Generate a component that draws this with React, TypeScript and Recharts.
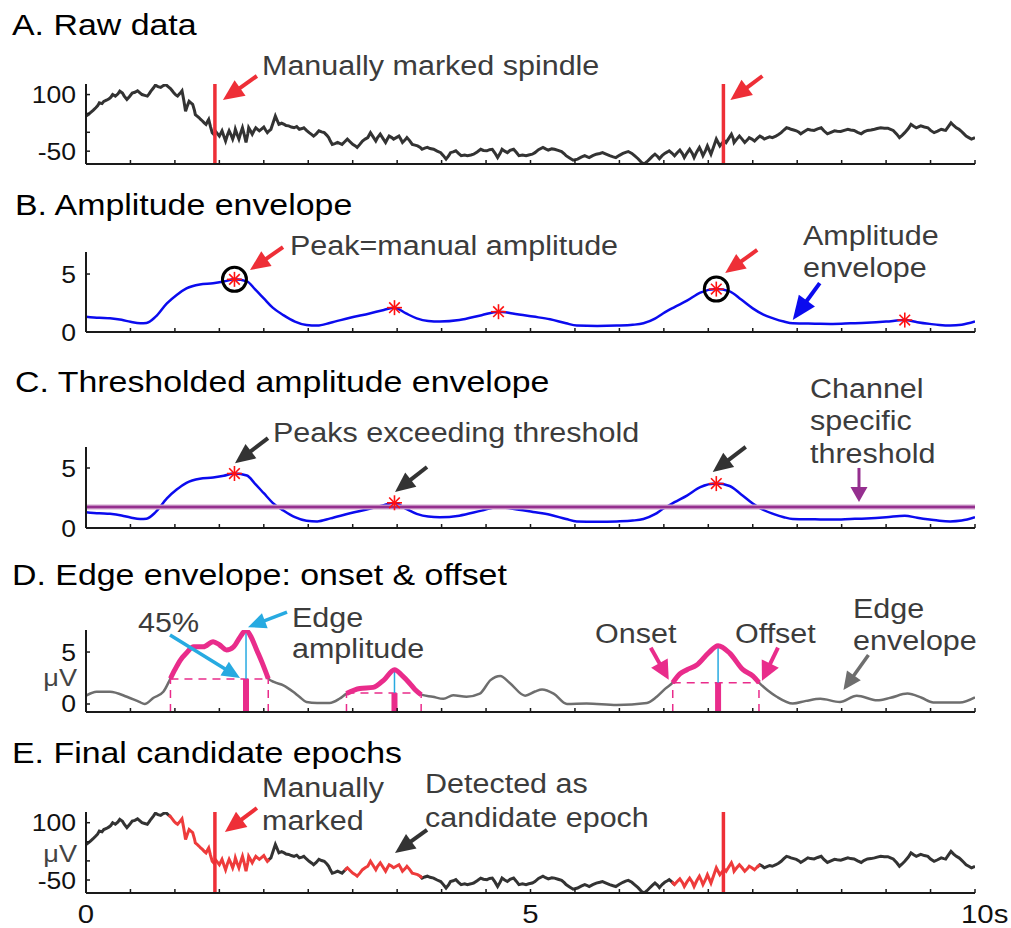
import React from "react";
import { ComposedChart, Line, XAxis, YAxis, ReferenceLine, ReferenceDot } from "recharts";

// ---------- data ----------
// time axis (s)
const xTicks = [0, 0.5, 1, 1.5, 2, 2.5, 3, 3.5, 4, 4.5, 5, 5.5, 6, 6.5, 7, 7.5, 8, 8.5, 9, 9.5, 10];
const xLabelValues = [0, 5, 10];
const xLabelTexts = ["0", "5", "10s"];

// raw EEG trace (µV)
const rawT = [
  0.0, 0.03, 0.05, 0.08, 0.11, 0.13, 0.15, 0.18, 0.2, 0.23, 0.26, 0.28, 0.3, 0.33, 0.36, 0.38, 0.41, 0.43, 0.46, 0.49,
  0.52, 0.55, 0.58, 0.61, 0.63, 0.66, 0.69, 0.71, 0.73, 0.76, 0.78, 0.81, 0.84, 0.87, 0.9, 0.93, 0.95, 0.97, 0.99, 1.01,
  1.03, 1.06, 1.08, 1.1, 1.12, 1.14, 1.16, 1.18, 1.2, 1.22, 1.23, 1.25, 1.27, 1.29, 1.31, 1.33, 1.35, 1.37, 1.38, 1.4,
  1.42, 1.44, 1.46, 1.48, 1.5, 1.53, 1.55, 1.57, 1.59, 1.61, 1.63, 1.65, 1.67, 1.68, 1.7, 1.72, 1.74, 1.76, 1.78, 1.8,
  1.82, 1.83, 1.85, 1.87, 1.89, 1.91, 1.93, 1.95, 1.98, 2.0, 2.02, 2.04, 2.06, 2.08, 2.1, 2.13, 2.15, 2.17, 2.2, 2.23,
  2.25, 2.28, 2.31, 2.34, 2.37, 2.4, 2.43, 2.45, 2.48, 2.51, 2.54, 2.56, 2.59, 2.62, 2.65, 2.68, 2.71, 2.73, 2.75, 2.77,
  2.8, 2.83, 2.86, 2.88, 2.91, 2.94, 2.97, 3.0, 3.03, 3.05, 3.08, 3.11, 3.14, 3.17, 3.2, 3.23, 3.26, 3.28, 3.31, 3.34,
  3.37, 3.39, 3.41, 3.44, 3.46, 3.49, 3.52, 3.54, 3.56, 3.59, 3.61, 3.64, 3.67, 3.7, 3.73, 3.76, 3.78, 3.81, 3.84, 3.87,
  3.91, 3.95, 3.99, 4.02, 4.05, 4.08, 4.1, 4.13, 4.16, 4.19, 4.22, 4.26, 4.29, 4.33, 4.36, 4.4, 4.44, 4.47, 4.51, 4.54,
  4.57, 4.6, 4.63, 4.66, 4.68, 4.71, 4.74, 4.77, 4.81, 4.84, 4.87, 4.91, 4.95, 4.98, 5.02, 5.05, 5.09, 5.14, 5.17, 5.2,
  5.24, 5.27, 5.31, 5.35, 5.38, 5.4, 5.44, 5.48, 5.53, 5.57, 5.61, 5.64, 5.66, 5.7, 5.74, 5.78, 5.81, 5.85, 5.89, 5.93,
  5.96, 6.0, 6.04, 6.07, 6.1, 6.14, 6.17, 6.21, 6.25, 6.28, 6.31, 6.34, 6.37, 6.4, 6.43, 6.45, 6.48, 6.51, 6.54, 6.56,
  6.59, 6.62, 6.65, 6.68, 6.71, 6.73, 6.76, 6.79, 6.82, 6.84, 6.87, 6.9, 6.92, 6.94, 6.97, 6.99, 7.01, 7.03, 7.06, 7.09,
  7.11, 7.13, 7.15, 7.18, 7.2, 7.23, 7.26, 7.28, 7.29, 7.32, 7.35, 7.38, 7.41, 7.44, 7.46, 7.49, 7.52, 7.55, 7.58, 7.61,
  7.63, 7.66, 7.69, 7.72, 7.76, 7.79, 7.82, 7.85, 7.88, 7.91, 7.93, 7.96, 7.99, 8.02, 8.04, 8.08, 8.12, 8.15, 8.19, 8.23,
  8.27, 8.3, 8.34, 8.38, 8.42, 8.45, 8.49, 8.53, 8.57, 8.6, 8.64, 8.68, 8.72, 8.75, 8.79, 8.83, 8.87, 8.9, 8.94, 8.98,
  9.02, 9.05, 9.08, 9.12, 9.15, 9.18, 9.21, 9.25, 9.28, 9.31, 9.34, 9.37, 9.39, 9.43, 9.47, 9.5, 9.54, 9.58, 9.62, 9.65,
  9.67, 9.7, 9.73, 9.76, 9.79, 9.82, 9.84, 9.87, 9.9, 9.93, 9.96, 10.0,
];
const rawV = [
  43, 48, 52, 58, 65, 70, 78, 76, 82, 85, 89, 93, 100, 96, 102, 109, 104, 96, 87, 95,
  104, 106, 110, 104, 100, 98, 96, 102, 109, 118, 125, 121, 119, 124, 126, 120, 116, 110, 104, 99,
  96, 104, 110, 85, 56, 70, 82, 78, 74, 58, 47, 43, 39, 34, 30, 25, 21, 30, 34, 15,
  -1, -6, 2, -4, -10, 4, -10, -23, -8, 4, -6, -18, -4, 8, -6, -18, -2, 12, -6, -27,
  -4, 12, 4, -5, 4, 12, 8, 4, 10, 14, 6, -1, 4, 8, 22, 43, 32, 21, 24, 21,
  18, 17, 14, 12, 15, 8, 10, 12, 5, -1, -6, -10, -4, 4, 1, -1, -8, -14, -24, -32,
  -30, -27, -30, -32, -25, -18, -25, -32, -36, -40, -32, -23, -18, -14, -1, -12, -23, -14, -5, -16,
  -27, -18, -10, -14, -18, -14, -10, -18, -27, -20, -14, -22, -32, -34, -36, -40, -45, -42, -40, -43,
  -45, -50, -54, -62, -71, -62, -54, -52, -49, -56, -62, -60, -62, -60, -58, -52, -45, -48, -49, -46,
  -45, -55, -67, -55, -45, -50, -54, -48, -45, -53, -62, -60, -62, -60, -58, -54, -46, -40, -44, -47,
  -44, -45, -48, -51, -57, -62, -68, -74, -71, -66, -62, -65, -67, -62, -58, -56, -54, -58, -62, -65,
  -67, -61, -56, -53, -51, -56, -62, -70, -80, -84, -78, -71, -64, -58, -64, -70, -62, -56, -52, -49,
  -55, -62, -54, -47, -57, -67, -55, -45, -56, -67, -52, -40, -50, -62, -48, -36, -47, -58, -38, -18,
  -27, -36, -30, -22, -27, -16, -5, -16, -27, -18, -10, -18, -27, -20, -14, -18, -23, -16, -10, -14,
  -18, -15, -12, -14, -10, -6, -1, 6, 12, 10, 8, 6, 4, 0, -4, 2, 8, 6, 5, 9,
  12, 4, -4, 0, 4, 3, 2, 5, 8, 6, 5, 0, -4, 1, 5, 6, 8, 10, 12, 11,
  11, 8, 5, -5, -14, -8, -1, 10, 21, 16, 12, 15, 17, 14, 12, 5, -1, 3, 8, 6,
  5, 15, 25, 18, 12, 8, 4, -3, -10, -14, -18, -14,
];
const rawYTicks = [-50, 0, 50, 100];
const rawYTickLabels = ["-50", "", "", "100"];

// manually marked spindles (s)
const manualT = [1.45, 7.17];

// amplitude envelope
const envT = [
  0.0, 0.15, 0.27, 0.4, 0.5, 0.61, 0.68, 0.78, 0.91, 1.02, 1.13, 1.28, 1.43, 1.55, 1.67, 1.81, 1.9, 2.0, 2.1, 2.22,
  2.35, 2.48, 2.6, 2.75, 2.97, 3.19, 3.35, 3.47, 3.6, 3.72, 3.85, 3.98, 4.2, 4.45, 4.64, 4.8, 5.03, 5.22, 5.4, 5.52,
  5.75, 5.97, 6.15, 6.27, 6.4, 6.49, 6.62, 6.76, 6.91, 7.09, 7.24, 7.37, 7.5, 7.62, 7.73, 7.85, 7.95, 8.2, 8.4, 8.6,
  8.78, 9.0, 9.21, 9.35, 9.49, 9.6, 9.72, 9.85, 10.0,
];
const envV = [
  1.32, 1.22, 1.18, 1.05, 0.88, 0.75, 0.78, 1.3, 2.47, 3.2, 3.76, 4.1, 4.2, 4.35, 4.54, 4.37, 3.7, 2.9, 2.1, 1.46,
  0.9, 0.6, 0.55, 0.8, 1.23, 1.6, 1.9, 2.1, 1.6, 1.18, 0.95, 0.9, 1.03, 1.45, 1.75, 1.6, 1.33, 1.1, 0.75, 0.55,
  0.52, 0.55, 0.62, 0.75, 1.15, 1.6, 2.15, 2.7, 3.4, 3.7, 3.5, 2.8, 2.04, 1.5, 1.18, 0.9, 0.75, 0.72, 0.7, 0.75,
  0.8, 0.9, 1.03, 0.85, 0.7, 0.6, 0.55, 0.62, 0.9,
];
const envPeakT = [1.67, 3.47, 4.64, 7.09, 9.21];
const manualPeakT = [1.67, 7.09];
const threshold = 1.75;

// edge envelope
const edgeT = [
  0.0, 0.12, 0.27, 0.46, 0.6, 0.66, 0.76, 0.87, 0.95, 1.0, 1.06, 1.13, 1.21, 1.32, 1.43, 1.5, 1.58, 1.66, 1.73, 1.8,
  1.86, 1.92, 1.98, 2.05, 2.12, 2.22, 2.33, 2.4, 2.48, 2.6, 2.74, 2.85, 2.93, 3.08, 3.23, 3.35, 3.47, 3.56, 3.64, 3.7,
  3.77, 3.9, 4.02, 4.13, 4.28, 4.43, 4.55, 4.66, 4.77, 4.94, 5.05, 5.13, 5.26, 5.41, 5.63, 5.97, 6.31, 6.42, 6.52, 6.6,
  6.68, 6.76, 6.87, 7.0, 7.11, 7.24, 7.39, 7.5, 7.57, 7.67, 7.77, 7.95, 8.1, 8.26, 8.48, 8.67, 8.9, 9.05, 9.24, 9.4,
  9.53, 9.83, 10.0,
];
const edgeV = [
  0.8, 1.18, 1.18, 0.7, 0.2, 0.0, 0.6, 1.18, 2.45, 3.3, 4.2, 4.9, 5.5, 5.5, 6.0, 5.7, 5.2, 5.5, 6.4, 7.1,
  6.4, 5.2, 4.0, 2.45, 2.1, 1.8, 1.18, 0.7, 0.2, 0.1, 0.1, 0.5, 1.0, 1.5, 1.6, 2.3, 3.3, 2.7, 2.0, 1.4,
  0.9, 0.7, 0.5, 0.85, 0.7, 1.0, 2.3, 2.7, 2.0, 0.8, 1.2, 1.4, 1.0, 0.0, 0.05, -0.1, 0.1, 0.7, 1.5, 2.05,
  2.9, 3.3, 3.75, 4.9, 5.6, 4.9, 3.3, 2.7, 2.05, 1.3, 0.7, 0.05, 0.3, 0.5, 0.2, 0.8, 0.35, 0.6, 1.0, 0.6,
  0.15, 0.15, 0.65,
];
const onsetT = [0.95, 2.93, 6.6];
const offsetT = [2.05, 3.77, 7.57];
const edgePeakT = [1.8, 3.47, 7.11];
const edgeLevel = [2.4, 1.05, 2.05];

// ---------- styling ----------
const FONT = "'Liberation Sans', Arial, Helvetica, sans-serif";
const SX = 1.13;
const AXIS = "#1a1a1a";
const RED = "#EE2F37";
const STAR = "#FF1010";
const BLUE = "#0B0BEE";
const PURPLE = "#952F8F";
const PINK = "#E92C8B";
const CYAN = "#27AAE1";
const EDGE_GRAY = "#6E6E6E";
const RAW = "#333333";
const NOTE = "#3C3C3C";

const W = 1011;
const RIGHT = 36;
const YW = 86;

// ---------- derived tables ----------
const inEpoch = (t: number) => onsetT.some((on, i) => t >= on - 1e-9 && t <= offsetT[i] + 1e-9);
const envData = envT.map((t, i) => ({ t, v: envV[i] }));
const envAt = (t: number) => envV[envT.indexOf(t)];
const edgeAt = (t: number) => edgeV[edgeT.indexOf(t)];
const edgeData = edgeT.map((t, i) => ({ t, v: edgeV[i], pink: inEpoch(t) ? edgeV[i] : null }));
const rawData = rawT.map((t, i) => ({ t, v: rawV[i] }));
const rawSplit = rawT.map((t, i) => {
  const inside = inEpoch(t);
  const prevIn = i > 0 ? inEpoch(rawT[i - 1]) : inside;
  const nextIn = i < rawT.length - 1 ? inEpoch(rawT[i + 1]) : inside;
  return {
    t,
    black: !inside || !prevIn || !nextIn ? rawV[i] : null,
    red: inside || prevIn || nextIn ? rawV[i] : null,
  };
});

// ---------- helpers ----------
type TP = { x: number; y: number; size?: number; fill?: string; anchor?: "start" | "middle" | "end"; children: React.ReactNode };
const T = ({ x, y, size = 27, fill = NOTE, anchor = "start", children }: TP) => (
  <text transform={`translate(${x} ${y}) scale(${SX} 1)`} fontSize={size} fill={fill} textAnchor={anchor} fontFamily={FONT}>
    {children}
  </text>
);

function arrow(x1: number, y1: number, x2: number, y2: number, color: string, w: number, hl: number, hw: number) {
  const dx = x2 - x1;
  const dy = y2 - y1;
  const L = Math.hypot(dx, dy);
  const ux = dx / L;
  const uy = dy / L;
  const bx = x2 - ux * hl;
  const by = y2 - uy * hl;
  const px = -uy;
  const py = ux;
  return (
    <g>
      <line x1={x1} y1={y1} x2={bx + ux * 2} y2={by + uy * 2} stroke={color} strokeWidth={w} />
      <polygon
        points={`${x2},${y2} ${bx + (px * hw) / 2},${by + (py * hw) / 2} ${bx - (px * hw) / 2},${by - (py * hw) / 2}`}
        fill={color}
      />
    </g>
  );
}

// arrow anchored at a data point: tail and tip given as pixel offsets from it
const arrowShape =
  (tx: number, ty: number, color: string, w: number, hl: number, hw: number, ox = 0, oy = 0) =>
  (p: any) =>
    arrow(p.cx + tx, p.cy + ty, p.cx + ox, p.cy + oy, color, w, hl, hw);

const starShape = (p: any) => {
  const { cx, cy } = p;
  const r = 7.5;
  const d = 5.3;
  return (
    <g stroke={STAR} strokeWidth={1.6}>
      <line x1={cx - r} x2={cx + r} y1={cy} y2={cy} />
      <line x1={cx} x2={cx} y1={cy - r} y2={cy + r} />
      <line x1={cx - d} x2={cx + d} y1={cy - d} y2={cy + d} />
      <line x1={cx - d} x2={cx + d} y1={cy + d} y2={cy - d} />
    </g>
  );
};

const makeXTick = (withLabels: boolean) => (p: any) => {
  const { x, y, payload } = p;
  const idx = xLabelValues.indexOf(payload.value);
  const label = withLabels && idx >= 0 ? xLabelTexts[idx] : null;
  return (
    <g>
      <line x1={x} x2={x} y1={y} y2={y - 4} stroke={AXIS} strokeWidth={1.5} />
      {label !== null &&
        (label.length > 1 ? (
          <T x={x - 14} y={y + 30} size={26} fill="#111" anchor="start">
            {label}
          </T>
        ) : (
          <T x={x} y={y + 30} size={26} fill="#111" anchor="middle">
            {label}
          </T>
        ))}
    </g>
  );
};

const makeYTick = (ticks: number[], labels: string[]) => (p: any) => {
  const { x, y, payload } = p;
  const label = labels[ticks.indexOf(payload.value)];
  return (
    <g>
      <line x1={x} x2={x + 4} y1={y} y2={y} stroke={AXIS} strokeWidth={1.5} />
      {label ? (
        <T x={x - 10} y={y + 8.5} size={23.5} fill="#111" anchor="end">
          {label}
        </T>
      ) : null}
    </g>
  );
};

const axes = (yDomain: number[], yTicks: number[], yLabels: string[], xAxisH: number, xLabels: boolean) => [
  <XAxis
    key="x"
    type="number"
    dataKey="t"
    domain={[0, 10]}
    ticks={xTicks}
    interval={0}
    allowDataOverflow
    height={xAxisH}
    tickSize={0}
    tickMargin={0}
    tickLine={false}
    axisLine={{ stroke: AXIS, strokeWidth: 2 }}
    tick={makeXTick(xLabels)}
  />,
  <YAxis
    key="y"
    type="number"
    domain={yDomain}
    ticks={yTicks}
    interval={0}
    allowDataOverflow
    width={YW}
    tickSize={0}
    tickMargin={0}
    tickLine={false}
    axisLine={{ stroke: AXIS, strokeWidth: 2 }}
    tick={makeYTick(yTicks, yLabels)}
  />,
];

const place = (top: number): React.CSSProperties => ({ position: "absolute", left: 0, top });

// panel geometry: [chart top, plot top, plot bottom, chart height]
const GA = [40, 84, 164, 136];
const GB = [215, 252, 332, 135];
const GC = [400, 447, 528, 146];
const GD = [590, 630, 712, 134];
const GE = [760, 812, 893, 168];
const marg = (g: number[]) => ({ top: g[1] - g[0], right: RIGHT, bottom: 0, left: 0 });
const xh = (g: number[]) => g[3] - (g[2] - g[0]);

const rawDomain = [-84, 128];
const envDomain = [0, 6.9];
const thrDomain = [0, 6.75];
const edgeDomain = [-0.77, 7.12];

export default function App() {
  return (
    <div style={{ position: "absolute", left: 0, top: 0, width: W, height: 928, background: "#fff", overflow: "hidden" }}>
      {/* A. Raw data */}
      <div style={place(GA[0])}>
        <ComposedChart width={W} height={GA[3]} data={rawData} margin={marg(GA)}>
          {axes(rawDomain, rawYTicks, rawYTickLabels, xh(GA), false)}
          <Line type="linear" dataKey="v" stroke={RAW} strokeWidth={3} dot={false} isAnimationActive={false} />
          {manualT.map((t) => (
            <ReferenceLine key={`m${t}`} x={t} stroke={RED} strokeWidth={3.5} ifOverflow="visible" />
          ))}
          {manualT.map((t, i) => (
            <ReferenceDot
              key={`ma${t}`}
              x={t}
              y={rawDomain[1]}
              ifOverflow="visible"
              shape={arrowShape(i === 0 ? 42 : 39, -8, RED, 4, 21, 19, i === 0 ? 8 : 7, 16)}
            />
          ))}
        </ComposedChart>
      </div>

      {/* B. Amplitude envelope */}
      <div style={place(GB[0])}>
        <ComposedChart width={W} height={GB[3]} data={envData} margin={marg(GB)}>
          {axes(envDomain, [0, 5], ["0", "5"], xh(GB), false)}
          <Line type="monotone" dataKey="v" stroke={BLUE} strokeWidth={2.5} dot={false} isAnimationActive={false} />
          {envPeakT.map((t) => (
            <ReferenceDot key={`s${t}`} x={t} y={envAt(t)} ifOverflow="visible" shape={starShape} />
          ))}
          {manualPeakT.map((t) => (
            <ReferenceDot key={`c${t}`} x={t} y={envAt(t)} r={12} fill="none" stroke="#000" strokeWidth={3} ifOverflow="visible" />
          ))}
          <ReferenceDot x={1.845} y={5.34} ifOverflow="visible" shape={arrowShape(33, -23, RED, 4, 20, 18)} />
          <ReferenceDot x={7.19} y={5.09} ifOverflow="visible" shape={arrowShape(32, -23, RED, 4, 20, 18)} />
          <ReferenceDot x={7.95} y={1.03} ifOverflow="visible" shape={arrowShape(27, -37, BLUE, 4, 24, 20)} />
        </ComposedChart>
      </div>

      {/* C. Thresholded amplitude envelope */}
      <div style={place(GC[0])}>
        <ComposedChart width={W} height={GC[3]} data={envData} margin={marg(GC)}>
          {axes(thrDomain, [0, 5], ["0", "5"], xh(GC), false)}
          <Line type="monotone" dataKey="v" stroke={BLUE} strokeWidth={2.5} dot={false} isAnimationActive={false} />
          <ReferenceLine y={threshold} stroke="#CFA2CB" strokeWidth={5} ifOverflow="visible" />
          <ReferenceLine y={threshold} stroke={PURPLE} strokeWidth={2.5} ifOverflow="visible" />
          {envPeakT
            .filter((t) => envAt(t) > threshold)
            .map((t) => (
              <ReferenceDot key={`s${t}`} x={t} y={envAt(t)} ifOverflow="visible" shape={starShape} />
            ))}
          <ReferenceDot x={1.676} y={5.4} ifOverflow="visible" shape={arrowShape(33, -25, "#333", 4, 20, 18)} />
          <ReferenceDot x={3.476} y={3.0} ifOverflow="visible" shape={arrowShape(32, -25, "#333", 4, 20, 18)} />
          <ReferenceDot x={7.05} y={4.67} ifOverflow="visible" shape={arrowShape(33, -25, "#333", 4, 20, 18)} />
          <ReferenceDot x={8.695} y={2.17} ifOverflow="visible" shape={arrowShape(0, -34, PURPLE, 3, 15, 17)} />
        </ComposedChart>
      </div>

      {/* D. Edge envelope */}
      <div style={place(GD[0])}>
        <ComposedChart width={W} height={GD[3]} data={edgeData} margin={marg(GD)}>
          {axes(edgeDomain, [0, 5], ["0", "5"], xh(GD), false)}
          <Line type="monotone" dataKey="v" stroke={EDGE_GRAY} strokeWidth={2.5} dot={false} isAnimationActive={false} />
          {onsetT.map((on, i) => (
            <ReferenceLine
              key={`h${i}`}
              segment={[
                { x: on, y: edgeLevel[i] },
                { x: offsetT[i], y: edgeLevel[i] },
              ]}
              stroke={PINK}
              strokeWidth={1.5}
              strokeDasharray="8 6"
              ifOverflow="visible"
            />
          ))}
          {[...onsetT, ...offsetT].map((t, k) => (
            <ReferenceLine
              key={`v${k}`}
              segment={[
                { x: t, y: edgeDomain[0] },
                { x: t, y: edgeLevel[k % 3] },
              ]}
              stroke={PINK}
              strokeWidth={1.5}
              strokeDasharray="8 6"
              ifOverflow="visible"
            />
          ))}
          {edgePeakT.map((t, i) => (
            <ReferenceLine
              key={`b${i}`}
              segment={[
                { x: t, y: edgeDomain[0] },
                { x: t, y: edgeLevel[i] },
              ]}
              stroke={PINK}
              strokeWidth={6}
              ifOverflow="visible"
            />
          ))}
          {edgePeakT.map((t, i) => (
            <ReferenceLine
              key={`a${i}`}
              segment={[
                { x: t, y: edgeLevel[i] },
                { x: t, y: edgeAt(t) },
              ]}
              stroke={CYAN}
              strokeWidth={1.5}
              ifOverflow="visible"
            />
          ))}
          <Line type="monotone" dataKey="pink" stroke={PINK} strokeWidth={5} dot={false} connectNulls={false} isAnimationActive={false} />
          <ReferenceDot x={edgePeakT[0]} y={edgeLevel[0]} ifOverflow="visible" shape={arrowShape(-76, -44, CYAN, 3.5, 18, 16, -6, -1)} />
          <ReferenceDot x={edgePeakT[0]} y={edgeAt(edgePeakT[0])} ifOverflow="visible" shape={arrowShape(41, -18, CYAN, 3.5, 18, 16, 2, -3)} />
          <ReferenceDot x={onsetT[2]} y={edgeLevel[2]} ifOverflow="visible" shape={arrowShape(-22, -35, PINK, 4, 19, 19, -4, -3)} />
          <ReferenceDot x={offsetT[2]} y={edgeLevel[2]} ifOverflow="visible" shape={arrowShape(19, -35, PINK, 4, 19, 19, 3, -2)} />
          <ReferenceDot x={8.52} y={1.35} ifOverflow="visible" shape={arrowShape(25, -35, EDGE_GRAY, 3.5, 18, 17)} />
        </ComposedChart>
      </div>

      {/* E. Final candidate epochs */}
      <div style={place(GE[0])}>
        <ComposedChart width={W} height={GE[3]} data={rawSplit} margin={marg(GE)}>
          {axes(rawDomain, rawYTicks, rawYTickLabels, xh(GE), true)}
          <Line type="linear" dataKey="black" stroke={RAW} strokeWidth={3} dot={false} connectNulls={false} isAnimationActive={false} />
          <Line type="linear" dataKey="red" stroke="#EE3B3B" strokeWidth={3} dot={false} connectNulls={false} isAnimationActive={false} />
          {manualT.map((t) => (
            <ReferenceLine key={`m${t}`} x={t} stroke={RED} strokeWidth={3.5} ifOverflow="visible" />
          ))}
          <ReferenceDot x={manualT[0]} y={rawDomain[1]} ifOverflow="visible" shape={arrowShape(42, -4, RED, 4, 21, 19, 10, 20)} />
          <ReferenceDot x={3.476} y={21} ifOverflow="visible" shape={arrowShape(32, -23, "#333", 4, 20, 18)} />
        </ComposedChart>
      </div>

      {/* titles and notes */}
      <svg width={W} height={928} style={{ position: "absolute", left: 0, top: 0, pointerEvents: "none" }}>
        <T x={12} y={35} size={30} fill="#000">A. Raw data</T>
        <T x={262} y={75}>Manually marked spindle</T>

        <T x={15} y={215} size={30} fill="#000">B. Amplitude envelope</T>
        <T x={290} y={255}>Peak=manual amplitude</T>
        <T x={803} y={245}>Amplitude</T>
        <T x={803} y={277}>envelope</T>

        <T x={15} y={392} size={30} fill="#000">C. Thresholded amplitude envelope</T>
        <T x={273} y={442}>Peaks exceeding threshold</T>
        <T x={810} y={398}>Channel</T>
        <T x={810} y={430}>specific</T>
        <T x={810} y={463}>threshold</T>

        <T x={12} y={585} size={30} fill="#000">{"D. Edge envelope: onset & offset"}</T>
        <T x={138} y={632}>45%</T>
        <T x={292} y={627}>Edge</T>
        <T x={292} y={658}>amplitude</T>
        <T x={595} y={643}>Onset</T>
        <T x={735} y={643}>Offset</T>
        <T x={853} y={618}>Edge</T>
        <T x={853} y={650}>envelope</T>
        <T x={77} y={686} size={24} fill="#444" anchor="end">μV</T>

        <T x={12} y={763} size={30} fill="#000">E. Final candidate epochs</T>
        <T x={262} y={797}>Manually</T>
        <T x={262} y={830}>marked</T>
        <T x={425} y={793}>Detected as</T>
        <T x={425} y={827}>candidate epoch</T>
        <T x={77} y={862} size={24} fill="#444" anchor="end">μV</T>
      </svg>
    </div>
  );
}
